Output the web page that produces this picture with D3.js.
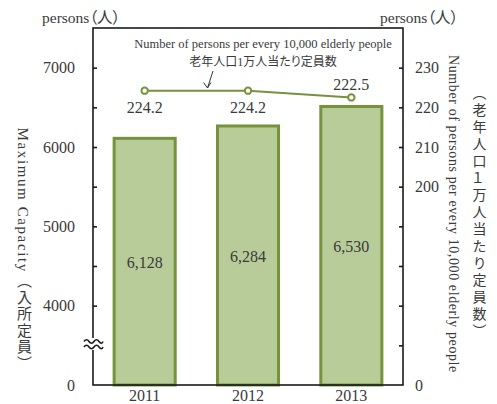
<!DOCTYPE html>
<html>
<head>
<meta charset="utf-8">
<script src="https://cdn.jsdelivr.net/npm/d3@7"></script>
<style>
  html, body { margin: 0; padding: 0; background: #fff; }
  svg { display: block; }
  text { font-family: "Liberation Serif", "Noto Sans CJK JP", serif; fill: #3a3a3a; font-feature-settings: "palt"; }
</style>
</head>
<body>
<svg id="chart" width="497" height="404"></svg>
<script>
// ---- data ----
const categories = ["2011", "2012", "2013"];
const capacity = [6128, 6284, 6530];
const perElderly = [224.2, 224.2, 222.5];
const capacityLabels = ["6,128", "6,284", "6,530"];
const perElderlyLabels = ["224.2", "224.2", "222.5"];
const leftTicks = [3000, 4000, 5000, 6000, 7000];
const leftTickLabels = ["0", "4000", "5000", "6000", "7000"];
const leftMinorTicks = [4500, 5500, 6500];
const rightTicks = [150, 200, 210, 220, 230];
const rightTickLabels = ["0", "200", "210", "220", "230"];
const rightMinorTicks = [160, 170, 180, 190];
const leftUnit = "persons（人）";
const rightUnit = "persons（人）";
const leftTitle = "Maximum Capacity（入所定員）";
const rightTitleEn = "Number of persons per every 10,000 elderly people";
const rightTitleJa = "（老年人口１万人当たり定員数）";
const lineNoteEn = "Number of persons per every 10,000 elderly people";
const lineNoteJa = "老年人口1万人当たり定員数";

// ---- layout ----
const L = 93, R = 403, T = 28, B = 385;
const barFill = "#b7cc99", barStroke = "#76923c", lineColor = "#76923c", axisColor = "#1a1a1a";

const svg = d3.select("#chart");

const x = d3.scaleBand().domain(categories).range([L, R]).paddingInner(0.38).paddingOuter(0.19);
const yL = d3.scaleLinear().domain([3000, 7500]).range([B, T]);
const yR = d3.scaleLinear().domain([150, 240]).range([B, T]);

const rows = categories.map((c, i) => ({ c, v: capacity[i], lab: capacityLabels[i], p: perElderly[i], plab: perElderlyLabels[i] }));

// bars
svg.append("g").selectAll("rect").data(rows).join("rect")
  .attr("x", d => x(d.c) + 1.5)
  .attr("width", x.bandwidth() - 3)
  .attr("y", d => yL(d.v) + 1.5)
  .attr("height", d => B - yL(d.v) - 1.5)
  .attr("fill", barFill)
  .attr("stroke", barStroke)
  .attr("stroke-width", 3);

svg.append("g").selectAll("text").data(rows).join("text")
  .attr("x", d => x(d.c) + x.bandwidth() / 2)
  .attr("y", d => (yL(d.v) + B) / 2 + 7.5)
  .attr("text-anchor", "middle")
  .attr("font-size", 16)
  .text(d => d.lab);

// frame
svg.append("rect").attr("x", L).attr("y", T).attr("width", R - L).attr("height", B - T)
  .attr("fill", "none").attr("stroke", axisColor).attr("stroke-width", 1.6);

// left axis
const axL = d3.axisLeft(yL).tickValues(leftTicks).tickSize(-4).tickPadding(18)
  .tickFormat((d, i) => leftTickLabels[i]);
const gL = svg.append("g").attr("transform", `translate(${L},0)`).call(axL);
gL.select(".domain").remove();
const axLm = d3.axisLeft(yL).tickValues(leftMinorTicks).tickSize(-4).tickFormat("");
const gLm = svg.append("g").attr("transform", `translate(${L},0)`).call(axLm);
gLm.select(".domain").remove();

// right axis
const axR = d3.axisRight(yR).tickValues(rightTicks).tickSize(-4).tickPadding(12)
  .tickFormat((d, i) => rightTickLabels[i]);
const gR = svg.append("g").attr("transform", `translate(${R},0)`).call(axR);
gR.select(".domain").remove();
const axRm = d3.axisRight(yR).tickValues(rightMinorTicks).tickSize(-4).tickFormat("");
const gRm = svg.append("g").attr("transform", `translate(${R},0)`).call(axRm);
gRm.select(".domain").remove();

[gL, gLm, gR, gRm].forEach(g => {
  g.attr("font-family", null);
  g.selectAll("line").attr("stroke", axisColor).attr("stroke-width", 1.6);
  g.selectAll("text").attr("font-size", 16).attr("fill", "#3a3a3a");
});
gL.selectAll(".tick").filter(d => d === 3000).select("line").remove();
gR.selectAll(".tick").filter(d => d === 150).select("line").remove();

// x axis labels
svg.append("g").selectAll("text").data(categories).join("text")
  .attr("x", d => x(d) + x.bandwidth() / 2)
  .attr("y", 401)
  .attr("text-anchor", "middle")
  .attr("font-size", 16)
  .text(d => d);

// axis break
const bk = svg.append("g").attr("transform", `translate(${L},344)`);
bk.append("rect").attr("x", -2).attr("y", -6).attr("width", 4).attr("height", 12).attr("fill", "#fff");
const wave = "M-9,0 q2.5,-3.5 5,0 t5,0 t5,0 t4,0";
bk.append("path").attr("d", wave).attr("transform", "translate(0,-2.5)").attr("fill", "none").attr("stroke", axisColor).attr("stroke-width", 1.6);
bk.append("path").attr("d", wave).attr("transform", "translate(0,3)").attr("fill", "none").attr("stroke", axisColor).attr("stroke-width", 1.6);

// line series
const line = d3.line().x(d => x(d.c) + x.bandwidth() / 2).y(d => yR(d.p));
svg.append("path").datum(rows).attr("d", line)
  .attr("fill", "none").attr("stroke", lineColor).attr("stroke-width", 2);
svg.append("g").selectAll("circle").data(rows).join("circle")
  .attr("cx", d => x(d.c) + x.bandwidth() / 2)
  .attr("cy", d => yR(d.p))
  .attr("r", 3.2)
  .attr("fill", "#fff").attr("stroke", lineColor).attr("stroke-width", 2);
svg.append("g").selectAll("text").data(rows).join("text")
  .attr("x", d => x(d.c) + x.bandwidth() / 2)
  .attr("y", (d, i) => i < 2 ? yR(d.p) + 22 : yR(d.p) - 7)
  .attr("text-anchor", "middle")
  .attr("font-size", 16)
  .text(d => d.plab);

// line annotation
svg.append("text").attr("x", 263).attr("y", 48).attr("text-anchor", "middle").attr("font-size", 12.5).text(lineNoteEn);
svg.append("text").attr("x", 263).attr("y", 66).attr("text-anchor", "middle").attr("font-size", 12).text(lineNoteJa);
svg.append("path").attr("d", "M213,71 L207.5,88").attr("stroke", "#333").attr("stroke-width", 1).attr("fill", "none");
svg.append("path").attr("d", "M203.5,82.5 L207.5,88 L211,82.5").attr("stroke", "#333").attr("stroke-width", 1).attr("fill", "none");

// unit labels
svg.append("text").attr("x", 42).attr("y", 23).attr("font-size", 15.5).text(leftUnit);
svg.append("text").attr("x", 380).attr("y", 23).attr("font-size", 15.5).text(rightUnit);

// vertical axis titles
svg.append("text").attr("x", 23).attr("y", 250)
  .attr("text-anchor", "middle")
  .style("writing-mode", "vertical-rl")
  .attr("font-size", 15).attr("letter-spacing", 1.6)
  .text(leftTitle);
svg.append("text").attr("x", 453).attr("y", 214)
  .attr("text-anchor", "middle")
  .style("writing-mode", "vertical-rl")
  .attr("font-size", 14).attr("letter-spacing", 0.6)
  .text(rightTitleEn);
svg.append("text").attr("x", 478).attr("y", 213)
  .attr("text-anchor", "middle")
  .style("writing-mode", "vertical-rl")
  .attr("font-size", 14).attr("letter-spacing", 3)
  .text(rightTitleJa);
</script>
</body>
</html>
